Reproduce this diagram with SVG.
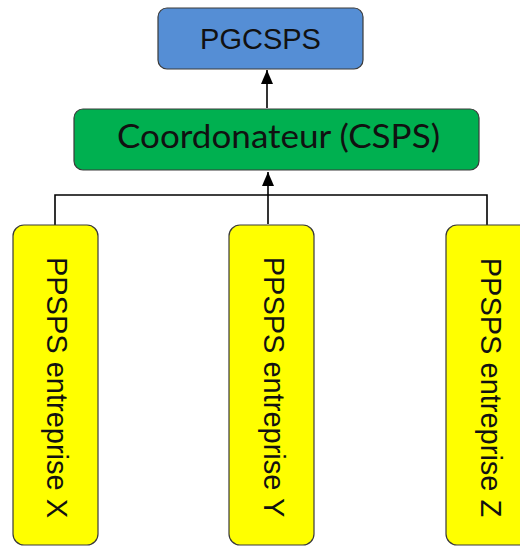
<svg xmlns="http://www.w3.org/2000/svg" width="520" height="547" viewBox="0 0 520 547">
<style>
.box{stroke:#3a3a3a;stroke-width:1.2}
.lbl{font-family:"Liberation Sans",Arial,sans-serif;font-size:29px;fill:#111}
.con{stroke:#000;stroke-width:1.6;fill:none}
</style>
<defs>
<marker id="ah2" viewBox="0 0 14 12" refX="14" refY="6" markerWidth="14" markerHeight="12" markerUnits="userSpaceOnUse" orient="auto">
<path d="M0,0 L14,6 L0,12 Z" fill="#000"/>
</marker>
</defs>
<rect width="520" height="547" fill="#fff"/>
<g id="connectors">
<line class="con" x1="267" y1="108" x2="267" y2="70" marker-end="url(#ah2)"/>
<line class="con" x1="268" y1="224" x2="268" y2="172" marker-end="url(#ah2)" stroke-width="2"/>
<polyline class="con" points="55,225 55,195 487,195 487,225"/>
</g>
<g id="pgcsps">
<rect class="box" x="158" y="8" width="205" height="61" rx="9" fill="#558ED5"/>
<text class="lbl" x="260.5" y="49" text-anchor="middle">PGCSPS</text>
</g>
<g id="csps">
<rect class="box" x="74" y="109" width="405" height="61" rx="9" fill="#00B050"/>
<text x="278.5" y="148" text-anchor="middle" font-family="Lato,'Liberation Sans',Arial,sans-serif" font-size="33" fill="#111" textLength="323" lengthAdjust="spacingAndGlyphs">Coordonateur (CSPS)</text>
</g>
<g id="entrepriseX">
<rect class="box" x="13" y="225" width="85" height="320" rx="11" fill="#FFFF00"/>
<text class="lbl" transform="translate(57,387.5) rotate(90)" x="0" y="10.4" text-anchor="middle">PPSPS entreprise X</text>
</g>
<g id="entrepriseY">
<rect class="box" x="229" y="225" width="85" height="320" rx="11" fill="#FFFF00"/>
<text class="lbl" transform="translate(274,387) rotate(90)" x="0" y="10.4" text-anchor="middle">PPSPS entreprise Y</text>
</g>
<g id="entrepriseZ">
<rect class="box" x="446" y="225" width="85" height="320" rx="11" fill="#FFFF00"/>
<text class="lbl" transform="translate(491,387.5) rotate(90)" x="0" y="10.4" text-anchor="middle">PPSPS entreprise Z</text>
</g>
</svg>
